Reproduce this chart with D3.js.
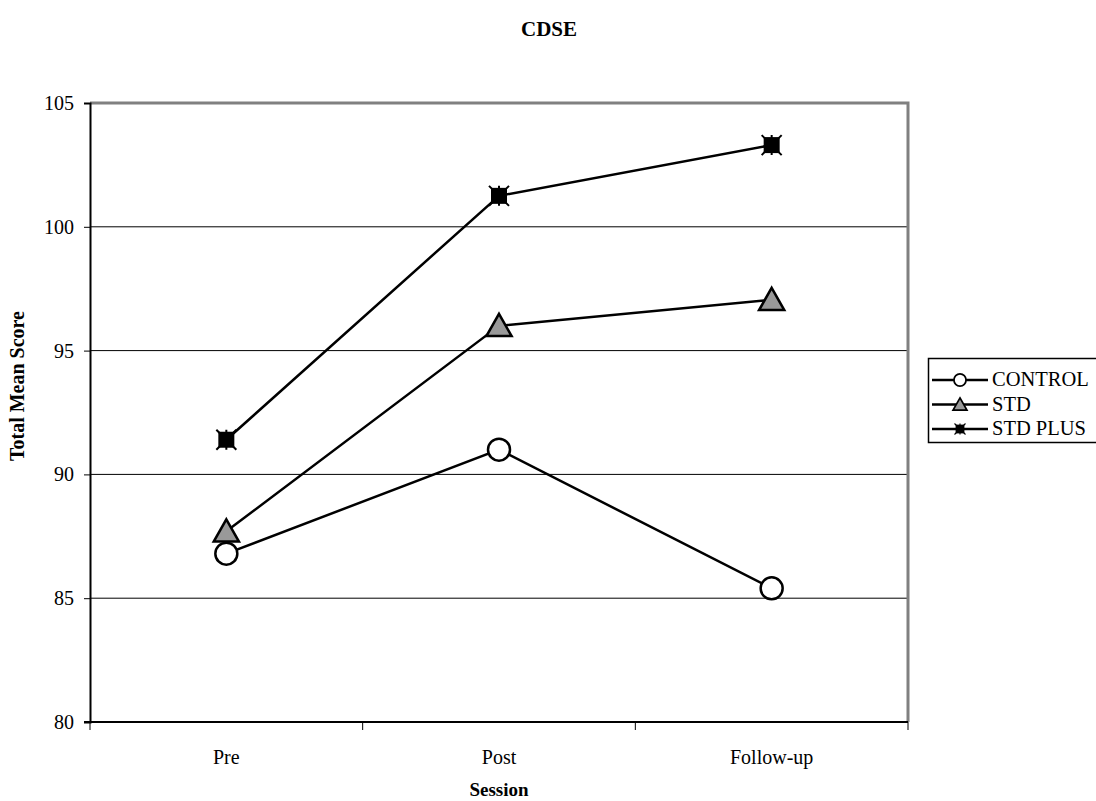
<!DOCTYPE html>
<html>
<head>
<meta charset="utf-8">
<script src="https://cdn.jsdelivr.net/npm/d3@7"></script>
<style>
  body { margin: 0; background: #fff; }
  svg { display: block; font-family: "Liberation Serif", "Times New Roman", serif; }
</style>
</head>
<body>
<svg id="chart" width="1096" height="801"></svg>
<script>
// data
const sessions = ["Pre", "Post", "Follow-up"];
const control = [86.8, 91.0, 85.4];
const std = [87.7, 96.0, 97.05];
const stdPlus = [91.4, 101.25, 103.3];
const yTicks = [80, 85, 90, 95, 100, 105];

const series = [
  { name: "CONTROL", values: control, marker: "circle" },
  { name: "STD", values: std, marker: "triangle" },
  { name: "STD PLUS", values: stdPlus, marker: "star" }
];

const svg = d3.select("#chart");
const plotLeft = 90, plotRight = 908, plotTop = 103, plotBottom = 722;

const x = d3.scaleBand().domain(sessions).range([plotLeft, plotRight]);
const y = d3.scaleLinear().domain([80, 105]).range([plotBottom, plotTop]);

// gridlines
svg.append("g")
  .selectAll("line")
  .data(yTicks.filter(d => d > 80 && d < 105))
  .enter().append("line")
  .attr("x1", plotLeft).attr("x2", plotRight)
  .attr("y1", d => y(d)).attr("y2", d => y(d))
  .attr("stroke", "#000").attr("stroke-width", 1);

// plot border top/right in gray
svg.append("path")
  .attr("d", `M${plotLeft},${plotTop}H${plotRight}V${plotBottom}`)
  .attr("fill", "none").attr("stroke", "#808080").attr("stroke-width", 3);

// y axis
const yAxis = svg.append("g").attr("transform", `translate(${plotLeft},0)`)
  .call(d3.axisLeft(y).tickValues(yTicks).tickSize(6).tickPadding(10));
yAxis.select(".domain").attr("stroke-width", 2);
yAxis.selectAll("text").attr("font-size", 20).attr("fill", "#000")
  .attr("font-family", "Liberation Serif");

// x axis: baseline, ticks at band edges, labels centered
svg.append("line").attr("x1", plotLeft - 6).attr("x2", plotRight)
  .attr("y1", plotBottom).attr("y2", plotBottom)
  .attr("stroke", "#000").attr("stroke-width", 2);
const edges = sessions.map(d => x(d)).concat([x(sessions[sessions.length - 1]) + x.bandwidth()]);
svg.append("g").selectAll("line").data(edges).enter().append("line")
  .attr("x1", d => d).attr("x2", d => d)
  .attr("y1", plotBottom).attr("y2", plotBottom + 8)
  .attr("stroke", "#000").attr("stroke-width", 1);
svg.append("g").selectAll("text").data(sessions).enter().append("text")
  .attr("x", d => x(d) + x.bandwidth() / 2).attr("y", 764)
  .attr("text-anchor", "middle").attr("font-size", 20)
  .text(d => d);

// titles
svg.append("text").attr("x", 549).attr("y", 36).attr("text-anchor", "middle")
  .attr("font-size", 21).attr("font-weight", "bold").text("CDSE");
svg.append("text").attr("x", 499).attr("y", 796).attr("text-anchor", "middle")
  .attr("font-size", 19).attr("font-weight", "bold").text("Session");
svg.append("text").attr("transform", "translate(24,386) rotate(-90)")
  .attr("text-anchor", "middle").attr("font-size", 20).attr("font-weight", "bold")
  .text("Total Mean Score");

// markers
function drawMarker(g, type, s) {
  if (type === "circle") {
    g.append("circle").attr("r", 11 * s).attr("fill", "#fff")
      .attr("stroke", "#000").attr("stroke-width", 2.5 * Math.max(s, 0.7));
  } else if (type === "triangle") {
    const h = 12 * s;
    g.append("path").attr("d", `M0,${-h}L${h * 1.05},${h * 0.85}L${-h * 1.05},${h * 0.85}Z`)
      .attr("fill", "#999").attr("stroke", "#000").attr("stroke-width", 2.5 * Math.max(s, 0.7))
      .attr("stroke-linejoin", "miter");
  } else {
    const a = 8 * s, b = 10 * s;
    g.append("rect").attr("x", -a).attr("y", -a).attr("width", 2 * a).attr("height", 2 * a)
      .attr("fill", "#000");
    g.append("path").attr("d", `M${-b},${-b}L${b},${b}M${-b},${b}L${b},${-b}M0,${-b}V${b}`)
      .attr("stroke", "#000").attr("stroke-width", 2 * s);
  }
}

const line = d3.line().x((d, i) => x(sessions[i]) + x.bandwidth() / 2).y(d => y(d));

series.forEach(sr => {
  svg.append("path").datum(sr.values).attr("d", line)
    .attr("fill", "none").attr("stroke", "#000").attr("stroke-width", 2.5);
  sr.values.forEach((v, i) => {
    const g = svg.append("g")
      .attr("transform", `translate(${x(sessions[i]) + x.bandwidth() / 2},${y(v)})`);
    drawMarker(g, sr.marker, 1);
  });
});

// legend
const lg = svg.append("g");
lg.append("rect").attr("x", 928.5).attr("y", 358.5).attr("width", 170).attr("height", 84)
  .attr("fill", "#fff").attr("stroke", "#000").attr("stroke-width", 1.5);
series.forEach((sr, i) => {
  const ly = 380 + i * 24.5;
  lg.append("line").attr("x1", 932).attr("x2", 988).attr("y1", ly).attr("y2", ly)
    .attr("stroke", "#000").attr("stroke-width", 2.5);
  const g = lg.append("g").attr("transform", `translate(960,${ly})`);
  drawMarker(g, sr.marker, 0.55);
  lg.append("text").attr("x", 992).attr("y", ly + 6).attr("font-size", 20.5).text(sr.name);
});
</script>
</body>
</html>
